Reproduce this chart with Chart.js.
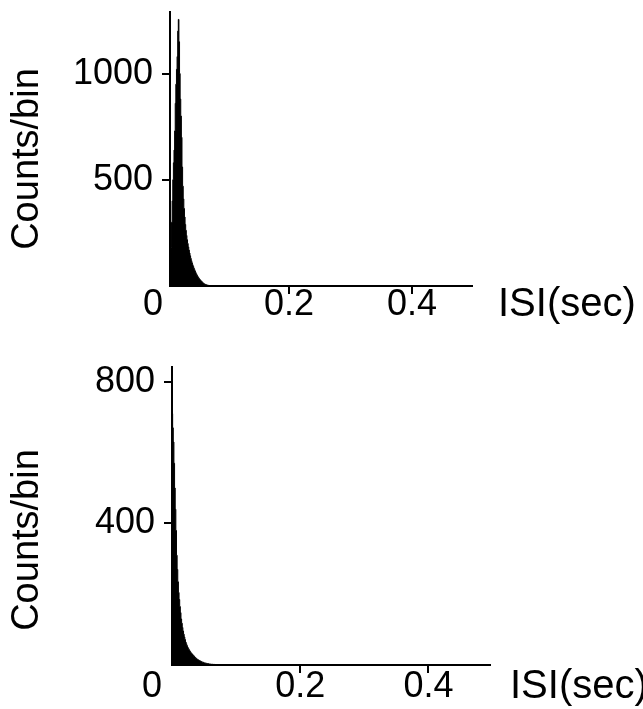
<!DOCTYPE html>
<html lang="en">
<head>
<meta charset="UTF-8">
<title>ISI histograms</title>
<script src="https://cdn.jsdelivr.net/npm/chart.js"></script>
<style>
    html, body { margin: 0; padding: 0; background: #fff; }
    .panel { position: absolute; left: 0; width: 643px; }
    #top-panel { top: 0; height: 340px; }
    #bottom-panel { top: 340px; height: 369px; }
</style>
</head>
<body>
<div id="top-panel" class="panel"><canvas id="isi-top" width="643" height="340"></canvas></div>
<div id="bottom-panel" class="panel"><canvas id="isi-bottom" width="643" height="369"></canvas></div>
<script>
// Interspike interval histograms, 1 ms bins (left edges), counts
const topBinStart = 0.007;
const topBinWidth = 0.001;
const topCounts = [100, 180, 300, 400, 500, 580, 640, 730, 860, 950, 1020, 1080, 1200, 1255,
    1150, 1000, 880, 800, 700, 560, 470, 410, 365, 325, 290, 262, 238, 218, 200, 184, 169,
    155, 142, 130, 119, 109, 100, 92, 84, 77, 70, 63, 57, 51, 46, 41, 37, 33, 29, 26, 23,
    20, 17, 14, 12, 10, 8, 7, 6, 5, 4, 3, 3, 2, 2, 2, 1, 1, 1, 1, 1, 0];
const topYTicks = [500, 1000];
const topXTicks = [0.2, 0.4];

const bottomBinStart = 0;
const bottomBinWidth = 0.001;
const bottomCounts = [710, 670, 630, 570, 500, 440, 380, 310, 270, 235, 205, 185, 165, 148,
    130, 118, 106, 96, 87, 79, 72, 65, 60, 55, 51, 47, 44, 41, 38, 35, 33, 31, 29, 27, 25,
    23, 21, 19, 18, 16, 15, 14, 13, 12, 11, 10, 9, 8, 8, 7, 6, 6, 5, 5, 4, 4, 4, 3, 3, 3,
    2, 2, 2, 2, 1, 2, 1, 1, 1, 1, 0];
const bottomYTicks = [400, 800];
const bottomXTicks = [0.2, 0.4];

const xTitle = 'ISI(sec)';
const yTitle = 'Counts/bin';

const fontFamily = "'Liberation Sans', Arial, sans-serif";
const tickFont = { family: fontFamily, size: 36, lineHeight: 1 };

function toPoints(start, width, counts) {
    return counts.map((c, i) => ({ x: start + i * width, y: c }));
}

// draws the corner "0", the x title to the right of the axis and the rotated y title
const extraLabels = {
    id: 'extraLabels',
    afterDraw(chart, args, opts) {
        const { ctx, chartArea } = chart;
        const y = chartArea.bottom + opts.labelDy;
        ctx.save();
        ctx.fillStyle = '#000';
        ctx.textBaseline = 'middle';
        ctx.font = '36px ' + fontFamily;
        ctx.textAlign = 'center';
        ctx.fillText('0', chartArea.left - opts.zeroDx, y);
        ctx.textAlign = 'left';
        ctx.font = '40px ' + fontFamily;
        ctx.fillText(xTitle, chartArea.right + opts.titleDx, y);
        ctx.translate(28, opts.yTitleY);
        ctx.rotate(-Math.PI / 2);
        ctx.font = '38px ' + fontFamily;
        ctx.textAlign = 'center';
        ctx.fillText(yTitle, 0, 0);
        ctx.restore();
    }
};

function makeChart(id, cfg) {
    const axisLine = { display: true, color: '#000', width: 2 };
    const tickMarks = { display: true, drawOnChartArea: false, drawTicks: true, tickLength: 8, color: '#000', lineWidth: 2 };
    return new Chart(document.getElementById(id), {
        type: 'line',
        data: {
            datasets: [{
                data: toPoints(cfg.binStart, cfg.binWidth, cfg.counts),
                stepped: true,
                fill: 'origin',
                backgroundColor: '#000',
                borderColor: '#000',
                borderWidth: 1,
                pointRadius: 0
            }]
        },
        options: {
            responsive: false,
            animation: false,
            events: [],
            layout: { padding: { left: 8, top: cfg.area.top, right: cfg.width - cfg.area.right, bottom: 0 } },
            plugins: {
                legend: { display: false },
                tooltip: { enabled: false },
                extraLabels: cfg.labels
            },
            scales: {
                x: {
                    type: 'linear',
                    min: cfg.xMin,
                    max: cfg.xMax,
                    afterBuildTicks: s => { s.ticks = cfg.xTicks.map(v => ({ value: v })); },
                    afterFit: s => {
                        s.height = cfg.height - cfg.area.bottom;
                        s.paddingLeft = 0; s.paddingRight = 0;
                    },
                    grid: tickMarks,
                    border: axisLine,
                    ticks: { color: '#000', font: tickFont, padding: cfg.xTickPad, maxRotation: 0, autoSkip: false, callback: v => String(v) }
                },
                y: {
                    min: 0,
                    max: cfg.yMax,
                    afterBuildTicks: s => { s.ticks = cfg.yTicks.map(v => ({ value: v })); },
                    afterFit: s => {
                        s.width = cfg.area.left - 8;
                        s.paddingTop = 0; s.paddingBottom = 0;
                    },
                    grid: tickMarks,
                    border: axisLine,
                    ticks: { color: '#000', font: tickFont, padding: 9, autoSkip: false, callback: v => String(v) }
                }
            }
        },
        plugins: [extraLabels]
    });
}

makeChart('isi-top', {
    width: 643, height: 340,
    area: { left: 170, right: 472, top: 12, bottom: 286 },
    binStart: topBinStart, binWidth: topBinWidth, counts: topCounts,
    xMin: 0.0065, xMax: 0.4975, xTicks: topXTicks, xTickPad: -7,
    yMax: 1290, yTicks: topYTicks,
    labels: { labelDy: 19, zeroDx: 17, titleDx: 26, yTitleY: 159 }
});

makeChart('isi-bottom', {
    width: 643, height: 369,
    area: { left: 172, right: 490, top: 27, bottom: 325 },
    binStart: bottomBinStart, binWidth: bottomBinWidth, counts: bottomCounts,
    xMin: 0, xMax: 0.496, xTicks: bottomXTicks, xTickPad: -4,
    yMax: 842, yTicks: bottomYTicks,
    labels: { labelDy: 22, zeroDx: 20, titleDx: 20, yTitleY: 200 }
});
</script>
</body>
</html>
